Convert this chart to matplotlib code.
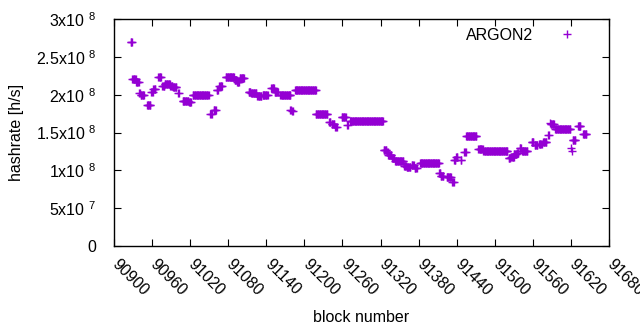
import numpy as np
import matplotlib
matplotlib.use("Agg")
import matplotlib.pyplot as plt
import matplotlib.transforms as mtransforms

plt.rcParams['font.family'] = ['Liberation Sans', 'DejaVu Sans']
plt.rcParams['mathtext.fontset'] = 'custom'
plt.rcParams['mathtext.rm'] = 'Liberation Sans'
plt.rcParams['mathtext.default'] = 'regular'

# runs of consecutive blocks sharing the same hashrate
run_start = [90926, 90929, 90935, 90940, 90942, 90952, 90959, 90962, 90970, 90976,
             90980, 90989, 90993, 91001, 91008, 91018, 91024, 91052, 91057, 91062,
             91066, 91076, 91090, 91094, 91098, 91112, 91116, 91126, 91134, 91148,
             91153, 91162, 91178, 91181, 91185, 91218, 91239, 91243, 91249, 91259,
             91267, 91272, 91325, 91330, 91332, 91338, 91343, 91357, 91361, 91369,
             91374, 91382, 91412, 91415, 91424, 91433, 91436, 91439, 91446, 91452,
             91455, 91474, 91482, 91522, 91526, 91530, 91535, 91539, 91543, 91558,
             91563, 91570, 91576, 91584, 91587, 91588, 91595, 91620, 91621, 91623,
             91631, 91639]
run_end = [90928, 90934, 90939, 90941, 90947, 90957, 90961, 90965, 90974, 90979,
           90988, 90992, 90998, 91002, 91017, 91021, 91049, 91054, 91060, 91064,
           91070, 91089, 91093, 91097, 91105, 91115, 91124, 91132, 91142, 91152,
           91158, 91178, 91179, 91182, 91218, 91236, 91241, 91247, 91251, 91265,
           91268, 91324, 91329, 91331, 91337, 91341, 91356, 91360, 91367, 91372,
           91377, 91412, 91414, 91419, 91431, 91435, 91438, 91441, 91447, 91454,
           91471, 91481, 91520, 91524, 91530, 91534, 91537, 91541, 91551, 91561,
           91567, 91574, 91581, 91585, 91587, 91593, 91619, 91620, 91621, 91627,
           91635, 91644]
run_rate = [2.70e8, 2.21e8, 2.17e8, 2.02e8, 1.99e8, 1.87e8, 2.03e8, 2.08e8, 2.23e8, 2.12e8,
            2.14e8, 2.12e8, 2.10e8, 2.02e8, 1.92e8, 1.90e8, 1.99e8, 1.74e8, 1.80e8, 2.06e8,
            2.11e8, 2.23e8, 2.20e8, 2.17e8, 2.22e8, 2.04e8, 2.02e8, 1.98e8, 2.00e8, 2.09e8,
            2.03e8, 2.00e8, 1.80e8, 1.78e8, 2.06e8, 1.74e8, 1.64e8, 1.61e8, 1.57e8, 1.70e8,
            1.60e8, 1.65e8, 1.27e8, 1.24e8, 1.20e8, 1.16e8, 1.12e8, 1.06e8, 1.04e8, 1.07e8,
            1.03e8, 1.10e8, 0.96e8, 0.93e8, 0.91e8, 0.84e8, 1.13e8, 1.17e8, 1.14e8, 1.24e8,
            1.455e8, 1.28e8, 1.25e8, 1.16e8, 1.18e8, 1.21e8, 1.23e8, 1.29e8, 1.26e8, 1.38e8,
            1.33e8, 1.35e8, 1.37e8, 1.47e8, 1.63e8, 1.61e8, 1.54e8, 1.29e8, 1.25e8, 1.40e8,
            1.59e8, 1.48e8]

x_ticks = [90900, 90960, 91020, 91080, 91140, 91200, 91260, 91320, 91380, 91440,
           91500, 91560, 91620, 91680]
y_ticks = [0, 5e7, 1e8, 1.5e8, 2e8, 2.5e8, 3e8]
y_tick_labels = ['0', '5x10 $^{7}$', '1x10 $^{8}$', '1.5x10 $^{8}$', '2x10 $^{8}$',
                 '2.5x10 $^{8}$', '3x10 $^{8}$']

blocks = np.concatenate([np.arange(s, e + 1) for s, e in zip(run_start, run_end)])
rates = np.concatenate([np.full(e - s + 1, r) for s, e, r in zip(run_start, run_end, run_rate)])

fs = 11.5
fig = plt.figure(figsize=(6.4, 3.3), dpi=100)
ax = fig.add_axes([114 / 640, 84 / 330, (609 - 114) / 640, (246 - 19) / 330])

ax.plot(blocks, rates, linestyle='none', marker='+', markersize=6,
        markeredgewidth=1.0, color='#9400d3', label='ARGON2')

ax.set_xlim(90900, 91680)
ax.set_ylim(0, 3e8)
ax.set_xticks(x_ticks)
ax.set_yticks(y_ticks)
ax.set_yticklabels(y_tick_labels)
ax.tick_params(direction='in', top=True, right=True, length=5, width=0.8,
               labelsize=fs, colors='black')
ax.tick_params(axis='y', pad=13)
ax.tick_params(axis='x', pad=0)
for sp in ax.spines.values():
    sp.set_linewidth(1.0)

offset = mtransforms.ScaledTranslation(6 / 100, -11 / 100, fig.dpi_scale_trans)
for lbl in ax.get_xticklabels():
    lbl.set_rotation(-45)
    lbl.set_ha('left')
    lbl.set_va('top')
    lbl.set_rotation_mode('anchor')
    lbl.set_transform(lbl.get_transform() + offset)

ax.set_xlabel('block number', fontsize=fs, labelpad=8)
ax.set_ylabel('hashrate [h/s]', fontsize=fs, labelpad=8)

ax.legend(loc='upper right', frameon=False, markerfirst=False, fontsize=fs,
          handlelength=1.0, handletextpad=1.6, bbox_to_anchor=(0.953, 1.01),
          borderaxespad=0.3)

fig.savefig('out.png', dpi=100)
